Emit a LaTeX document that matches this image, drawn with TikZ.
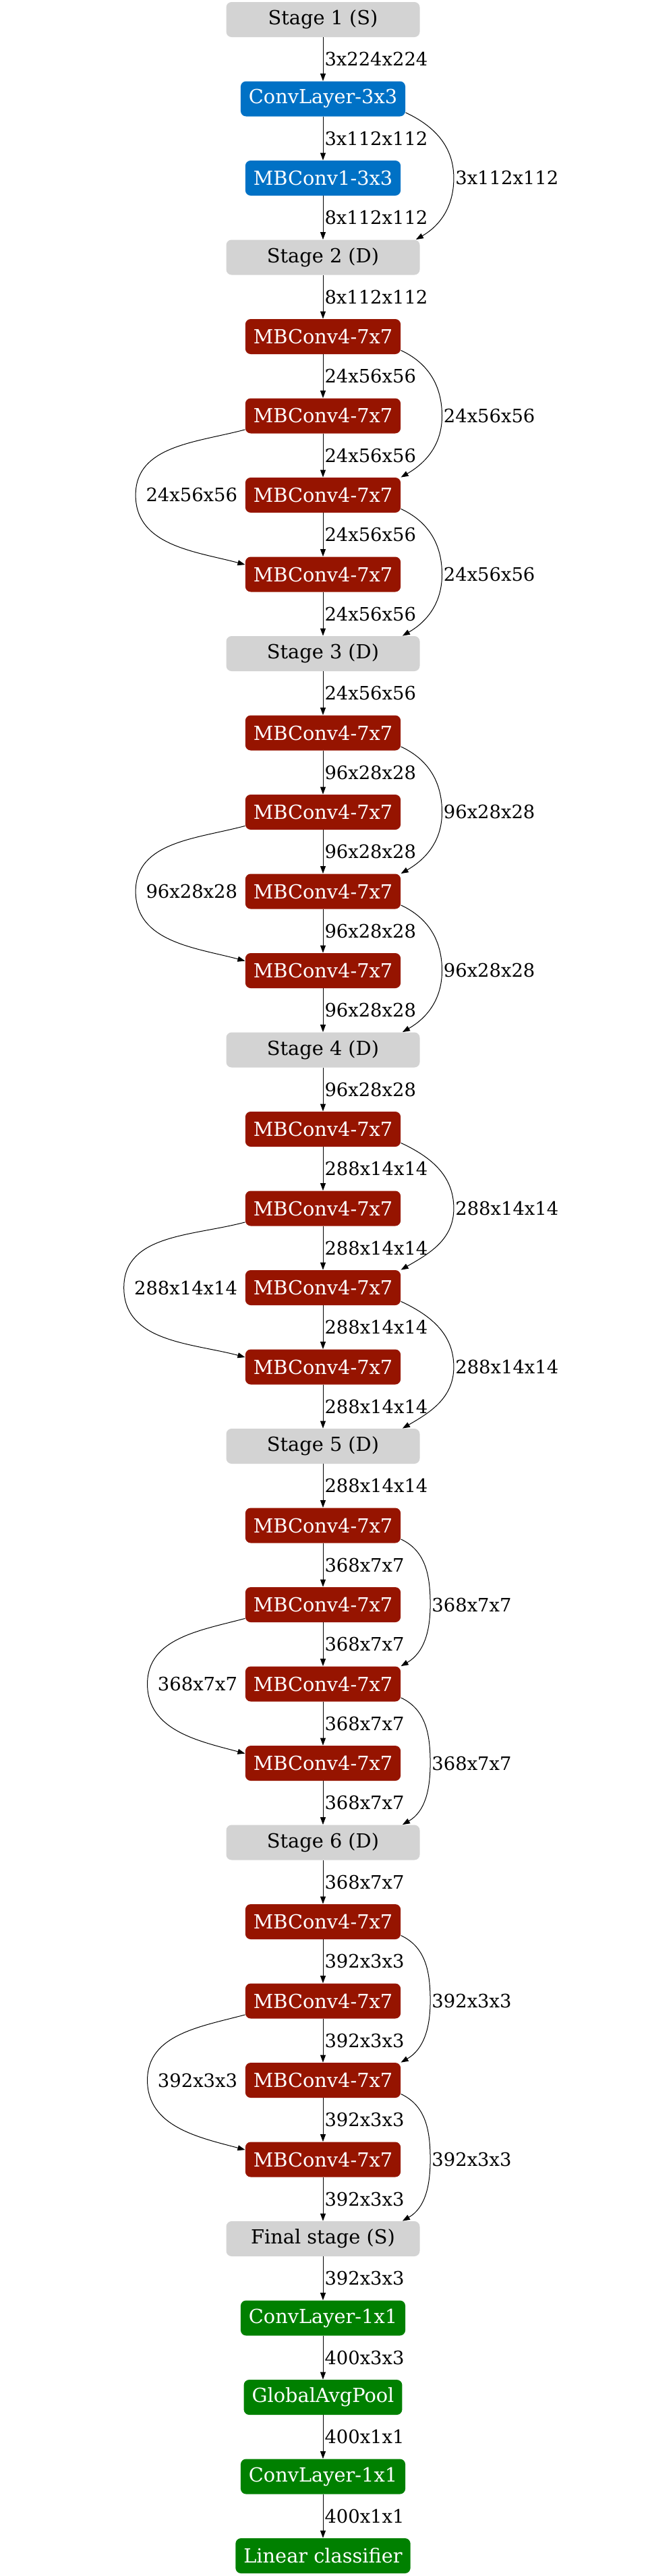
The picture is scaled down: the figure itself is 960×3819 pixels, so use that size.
\documentclass[tikz,border=0pt]{standalone}
\usepackage{fontspec}
\setmainfont{DejaVu Serif}
\usepackage{tikz}
\usetikzlibrary{arrows.meta}
\definecolor{s1}{HTML}{D3D3D3}
\definecolor{c1}{HTML}{0071C5}
\definecolor{m1}{HTML}{961400}
\definecolor{h1}{HTML}{008000}
\newcommand{\boxfont}{\fontsize{14.4}{17}\selectfont}
\newcommand{\dimfont}{\fontsize{13.7}{16}\selectfont}

\begin{document}
\begin{tikzpicture}[x=0.5pt, y=0.5pt,
  box/.style={rounded corners=4pt, minimum height=26pt, inner xsep=6pt, font=\boxfont},
  stagebox/.style={box, fill=s1, minimum width=143.5pt},
  convbox/.style={box, fill=c1, text=white},
  mbbox/.style={box, fill=m1, text=white},
  headbox/.style={box, fill=h1, text=white},
  flow/.style={-{Triangle[length=5.5pt,width=4pt]}, line width=0.5pt},
  dims/.style={font=\dimfont, inner sep=1pt}]
\useasboundingbox (0,0) rectangle (960,-3819);
% stages, stem and head
\foreach \i/\sty/\txt in {0/stagebox/Stage 1 (S), 1/convbox/ConvLayer-3x3, 2/convbox/MBConv1-3x3,
    3/stagebox/Stage 2 (D), 8/stagebox/Stage 3 (D), 13/stagebox/Stage 4 (D), 18/stagebox/Stage 5 (D),
    23/stagebox/Stage 6 (D), 28/stagebox/Final stage (S), 29/headbox/ConvLayer-1x1,
    30/headbox/GlobalAvgPool, 31/headbox/ConvLayer-1x1, 32/headbox/Linear classifier}
  \node[\sty] (n\i) at (479,{-29-117.5*\i}) {\txt};
% MBConv blocks
\foreach \b in {4,9,14,19,24}
  \foreach \k in {0,...,3} {
    \pgfmathtruncatemacro\i{\b+\k}
    \node[mbbox] (n\i) at (479,{-29-117.5*\i}) {MBConv4-7x7};
  }
% main line
\foreach \i/\d in {0/3x224x224, 1/3x112x112, 2/8x112x112, 3/8x112x112, 29/400x3x3, 30/400x1x1, 31/400x1x1} {
  \pgfmathtruncatemacro\j{\i+1}
  \draw[flow] (n\i) -- node[dims, right] (l\i) {\d} (n\j);
}
\foreach \b/\d in {4/24x56x56, 9/96x28x28, 14/288x14x14, 19/368x7x7, 24/392x3x3}
  \foreach \k in {0,...,4} {
    \pgfmathtruncatemacro\i{\b+\k}
    \pgfmathtruncatemacro\j{\i+1}
    \draw[flow] (n\i) -- node[dims, right] (l\i) {\d} (n\j);
  }
% skip connections
\node[dims, anchor=west, xshift=18pt] (sa1) at (l1.east |- n2) {3x112x112};
\draw[flow] ([yshift=3pt]n1.south east) to[out=-25,in=90] (sa1.west) to[out=-90,in=30] ([xshift=-3pt]n3.north east);
\foreach \b/\d in {4/24x56x56, 9/96x28x28, 14/288x14x14, 19/368x7x7, 24/392x3x3} {
  \pgfmathtruncatemacro\c{\b+1}
  \pgfmathtruncatemacro\e{\b+2}
  \pgfmathtruncatemacro\f{\b+3}
  \pgfmathtruncatemacro\h{\b+4}
  \node[dims, anchor=west, xshift=18pt] (sa\b) at (l\b.east |- n\c) {\d};
  \node[dims, anchor=east, xshift=-4.5pt] (sb\b) at (n\e.west) {\d};
  \node[dims, anchor=west, xshift=18pt] (sc\b) at (l\b.east |- n\f) {\d};
  \draw[flow] ([yshift=3pt]n\b.south east) to[out=-25,in=90] (sa\b.west) to[out=-90,in=30] (n\e.north east);
  \draw[flow] ([yshift=3pt]n\c.south west) to[out=195,in=90] ([xshift=-6.5pt]sb\b.west) to[out=-90,in=165] ([yshift=-6pt]n\f.north west);
  \draw[flow] ([yshift=3pt]n\e.south east) to[out=-25,in=90] (sc\b.west) to[out=-90,in=30] ([xshift=-13pt]n\h.north east);
}
\end{tikzpicture}
\end{document}
